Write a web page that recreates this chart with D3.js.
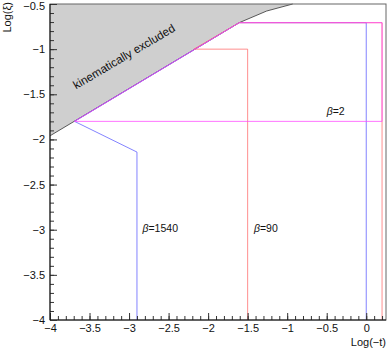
<!DOCTYPE html>
<html lang="en">
  <head>
    <meta charset="UTF-8" />
    <title>Log(xi) vs Log(-t)</title>
    <script src="https://d3js.org/d3.v7.min.js"></script>
    <style>
      body { margin: 0; background: #fff; }
      text { font-family: "Liberation Sans", Arial, sans-serif; }
    </style>
  </head>
  <body>
    <div id="chart"></div>
    <script>
      const width = 388;
      const height = 349;

      // kinematic boundary (log(-t), log(xi))
      const boundary = [[-4, -1.96], [-1.607, -0.707], [-1.26, -0.578], [-0.93, -0.5]];

      // contour paths for each beta
      const beta1540 = [[-2.9, -4], [-2.9, -2.14], [-3.69, -1.8], [-1.607, -0.707], [0, -0.707], [0, -4]];
      const beta90 = [[-1.5, -4], [-1.5, -1.0], [-2.18, -1.0], [-1.607, -0.707], [0.2, -0.707], [0.2, -4]];
      const beta2 = [[-3.69, -1.8], [-1.607, -0.707], [0.2, -0.707], [0.2, -1.8], [-3.69, -1.8]];

      const xTicks = [-4, -3.5, -3, -2.5, -2, -1.5, -1, -0.5, 0];
      const yTicks = [-4, -3.5, -3, -2.5, -2, -1.5, -1, -0.5];

      const x = d3.scaleLinear().domain([-4, 0.25]).range([50, 386]);
      const y = d3.scaleLinear().domain([-4, -0.5]).range([320, 4]);

      const svg = d3.select("#chart").append("svg")
        .attr("width", width).attr("height", height);

      const line = d3.line().x(d => x(d[0])).y(d => y(d[1]));
      const fmt = d => d3.format("")(d).replace("-", "\u2212\u200a");

      // excluded region
      const poly = [[-4, -0.5]].concat(boundary);
      svg.append("path")
        .attr("d", line(poly) + "Z")
        .attr("fill", "#cfcfcf")
        .attr("stroke", "none");
      svg.append("path")
        .attr("d", line(boundary))
        .attr("fill", "none")
        .attr("stroke", "#333")
        .attr("stroke-width", 0.8);

      svg.append("text")
        .attr("transform", `translate(126,60) rotate(-30.5)`)
        .attr("text-anchor", "middle")
        .attr("font-size", 11.6)
        .attr("fill", "#111")
        .text("kinematically excluded");

      // frame
      svg.append("rect")
        .attr("x", x(-4)).attr("y", y(-0.5))
        .attr("width", x(0.25) - x(-4)).attr("height", y(-4) - y(-0.5))
        .attr("fill", "none").attr("stroke", "#666").attr("stroke-width", 1);

      // contour lines
      const series = [
        { pts: beta1540, color: "#5a5aff" },
        { pts: beta90, color: "#ff6a6a" },
        { pts: beta2, color: "#ff44ff" }
      ];
      series.forEach(s => {
        svg.append("path")
          .attr("d", line(s.pts))
          .attr("fill", "none")
          .attr("stroke", s.color)
          .attr("stroke-opacity", 0.75)
          .attr("stroke-width", 1);
      });

      // axes with inward ticks
      const xMinor = d3.range(-40, 3).map(d => d / 10);
      const yMinor = d3.range(-40, -4).map(d => d / 10);

      const gx = svg.append("g").attr("transform", `translate(0,${y(-4)})`);
      gx.call(d3.axisBottom(x).tickValues(xMinor).tickSize(-4).tickFormat(""))
        .call(g => g.select(".domain").remove());
      gx.append("g").call(d3.axisBottom(x).tickValues(xTicks).tickSize(-7).tickPadding(4).tickFormat(fmt))
        .call(g => g.select(".domain").remove())
        .call(g => g.selectAll("text").attr("font-size", 11).attr("fill", "#111")
          .attr("font-family", "'Liberation Sans', Arial, sans-serif"));
      gx.selectAll("line").attr("stroke", "#333");
      gx.append("line").attr("x1", x(-4)).attr("x2", x(0.25)).attr("stroke", "#111");

      const gy = svg.append("g").attr("transform", `translate(${x(-4)},0)`);
      gy.call(d3.axisLeft(y).tickValues(yMinor).tickSize(-4).tickFormat(""))
        .call(g => g.select(".domain").remove());
      gy.append("g").call(d3.axisLeft(y).tickValues(yTicks).tickSize(-7).tickPadding(5).tickFormat(fmt))
        .call(g => g.select(".domain").remove())
        .call(g => g.selectAll("text").attr("font-size", 11).attr("fill", "#111")
          .attr("font-family", "'Liberation Sans', Arial, sans-serif"));
      gy.selectAll("text").filter(d => d === -0.5).attr("dy", "0.5em");
      gy.selectAll("line").attr("stroke", "#333");
      gy.append("line").attr("y1", y(-4)).attr("y2", y(-0.5)).attr("stroke", "#111");

      // axis titles
      svg.append("text")
        .attr("transform", `translate(11,2) rotate(-90)`)
        .attr("text-anchor", "end")
        .attr("font-size", 11)
        .attr("fill", "#111")
        .text("Log(\u03be)");
      svg.append("text")
        .attr("x", 386).attr("y", 346)
        .attr("text-anchor", "end")
        .attr("font-size", 11)
        .attr("fill", "#111")
        .text("Log(\u2212t)");

      // beta labels
      const labels = [
        { t: "1540", x: -2.83, y: -3.02 },
        { t: "90", x: -1.42, y: -3.02 },
        { t: "2", x: -0.5, y: -1.73 }
      ];
      labels.forEach(l => {
        const tx = svg.append("text")
          .attr("x", x(l.x)).attr("y", y(l.y))
          .attr("font-size", 10.5)
          .attr("fill", "#111");
        tx.append("tspan").attr("font-style", "italic").text("\u03b2");
        tx.append("tspan").text("=" + l.t);
      });
    </script>
  </body>
</html>
